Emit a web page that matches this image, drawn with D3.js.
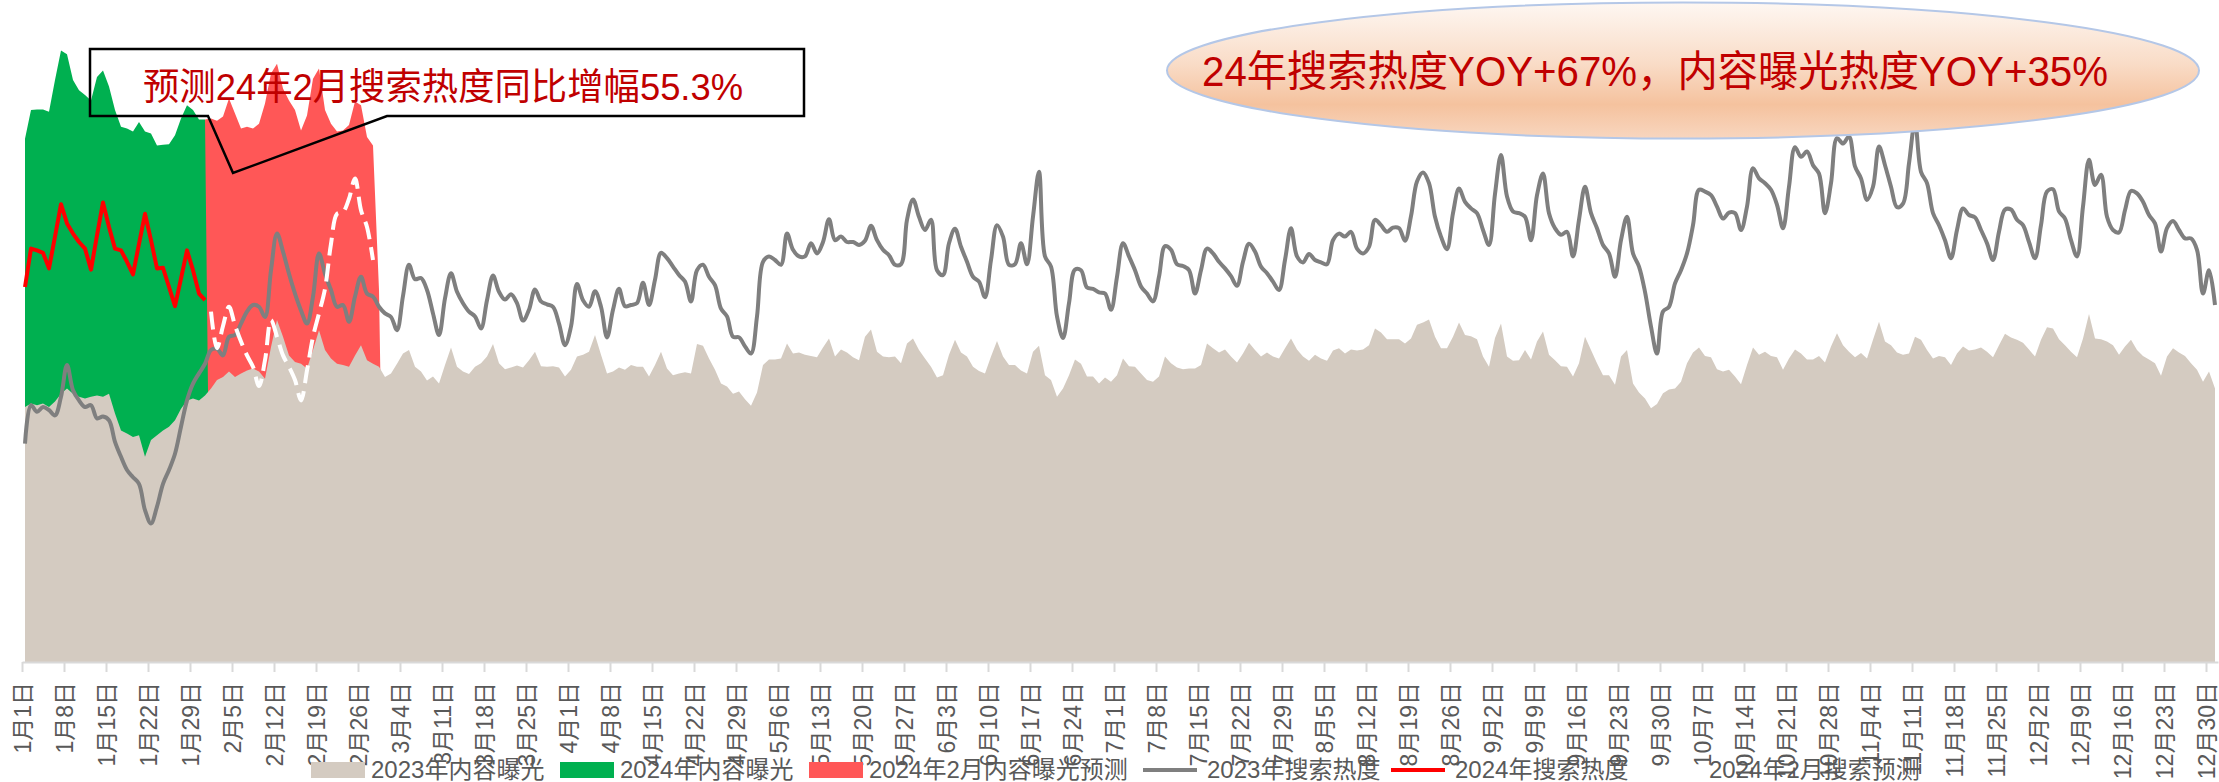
<!DOCTYPE html>
<html>
<head>
<meta charset="utf-8">
<script src="https://cdn.jsdelivr.net/npm/d3@7"></script>
<style>
  html, body { margin: 0; padding: 0; background: #fff; }
  svg { display: block; }
  text { font-family: "Liberation Sans", "Noto Sans CJK SC", sans-serif; }
</style>
</head>
<body>
<svg id="chart" width="2219" height="782"></svg>
<script>
// categories: every day of 2024 (the axis uses the leap-year calendar)
const days = d3.timeDay.range(new Date(2024, 0, 1), new Date(2025, 0, 1));
const tickDays = d3.range(0, days.length, 7);
const febStart = 31;

// 2023 content exposure, one value per day (index units)
const exposure2023 = [
  42.5, 43.1, 42.8, 43.1, 42.5, 43.4, 44.7, 45.6, 44.7, 44.2, 43.9, 44.2, 44.4, 44.2, 44.7, 41.4,
  38.6, 38.1, 37.5, 37.8, 34.2, 37.0, 37.8, 38.6, 39.2, 40.3, 42.2, 43.6, 43.9, 43.6, 44.4,
  45.6, 47.0, 47.5, 48.4, 47.5, 48.1, 48.6, 48.9, 48.4, 47.2, 52.5, 57.0, 54.2, 51.1, 50.0, 49.7,
  48.9, 52.0, 55.3, 52.0, 50.6, 49.7, 49.5, 49.2, 51.1, 52.8, 50.3, 49.7, 49.2, 47.5, 48.1, 49.7,
  51.4, 52.0, 49.2,
  48.4, 46.9, 47.6, 46.4, 49.5, 52.4, 49.2, 48.4, 48.0, 49.2, 49.8, 50.9, 53.0, 49.8, 48.8, 49.1,
  49.4, 49.1, 50.3, 51.7, 49.3, 49.2, 49.3, 49.1, 47.6, 48.7, 50.9, 51.2, 51.7, 54.5, 51.2, 48.1,
  48.4, 49.1, 48.7, 49.5, 49.2, 49.2, 47.6, 49.5, 51.7, 48.9, 47.8, 48.1, 48.3, 48.1, 53.0, 52.7,
  50.6, 48.7, 46.4, 45.9, 44.7, 45.1, 43.8, 42.7, 44.9, 49.5,
  50.4, 50.4, 50.6, 53.1, 51.4, 51.6, 51.2, 51.0, 50.8, 52.4, 53.9, 50.9, 52.1, 51.6, 50.8, 50.3,
  54.2, 55.4, 51.7, 50.9, 50.8, 50.9, 49.8, 53.1, 53.9, 52.0, 50.6, 49.2, 47.4, 47.8, 51.2, 53.7,
  51.6, 50.9, 49.2, 48.5, 48.1, 50.9, 53.5, 50.9, 49.5, 49.5, 48.6, 48.1, 51.7, 52.7, 47.8, 47.0,
  44.2, 45.6, 47.8, 50.4, 49.7, 47.6, 47.6, 46.4, 47.4, 46.7, 47.8, 50.6, 49.3,
  49.2, 48.1, 47.0, 46.7, 47.6, 50.9, 49.8, 49.1, 48.8, 48.9, 48.9, 49.5, 53.1, 52.3, 51.6, 52.1,
  50.9, 49.9, 51.4, 53.2, 52.0, 50.9, 51.6, 50.9, 50.6, 52.3, 53.9, 52.1, 50.9, 50.2, 51.2, 50.6,
  50.2, 51.9, 52.3, 51.4, 52.1, 51.9, 52.1, 52.8, 55.6, 54.9, 53.8, 53.8, 53.8, 53.1, 53.9, 56.2,
  56.6, 57.1, 54.2, 52.3, 52.3, 54.2, 56.6, 54.5, 54.3, 53.8, 50.9, 49.2, 54.0,
  56.4, 50.9, 50.2, 50.3, 52.0, 50.4, 53.4, 55.1, 51.2, 50.3, 49.3, 49.2, 47.6, 49.8, 54.2, 52.0,
  49.8, 47.8, 47.8, 46.2, 50.9, 52.0, 46.4, 44.9, 43.9, 42.3, 43.0, 44.8, 45.4, 45.6, 46.7, 49.8,
  51.6, 52.4, 51.0, 50.8, 48.8, 48.4, 48.7, 47.6, 46.3, 49.5, 52.4, 51.2, 51.7, 51.0, 50.8, 48.7,
  50.6, 52.1, 51.4, 50.4, 50.4, 51.0, 49.9, 52.6, 54.8, 52.8, 51.7, 50.8,
  51.5, 50.6, 53.7, 56.7, 53.4, 52.8, 51.6, 51.2, 51.4, 54.2, 53.7, 52.0, 50.6, 51.0, 50.8, 49.5,
  51.4, 52.6, 51.9, 52.1, 52.4, 51.7, 50.8, 52.8, 54.7, 54.1, 53.7, 53.2, 52.1, 50.9, 53.7, 55.8,
  55.6, 53.8, 52.8, 51.7, 50.8, 53.9, 58.0, 53.9, 53.8, 53.4, 52.8, 51.2, 52.6, 53.7, 52.0, 51.0,
  50.4, 49.8, 47.7, 50.9, 52.3, 51.6, 51.0, 49.8, 48.7, 46.7, 48.4, 45.6
];

// 2023 search heat, one value per day
const search2023 = [
  36.4, 42.8, 41.7, 42.5, 42.0, 41.1, 44.2, 49.5, 45.3, 43.6, 42.5, 42.8, 40.6, 40.9, 40.3, 36.7,
  34.2, 32.0, 30.8, 29.7, 25.3, 23.1, 25.9, 29.7, 32.0, 34.7, 39.2, 43.6, 46.4, 48.1, 49.7,
  52.0, 52.2, 51.1, 54.2, 54.5, 56.4, 58.4, 59.5, 59.2, 57.5, 65.3, 71.4, 68.4, 64.7, 61.4, 58.6,
  56.4, 60.9, 68.1, 64.7, 62.0, 59.2, 59.5, 56.7, 60.9, 64.2, 61.4, 60.9, 59.2, 58.1, 57.5, 55.3,
  61.0, 66.2, 63.8,
  64.0, 62.0, 58.1, 54.5, 60.6, 64.8, 61.7, 59.8, 58.4, 57.6, 55.6, 60.3, 64.4, 61.7, 60.4, 61.3,
  59.8, 56.9, 58.7, 62.1, 60.1, 59.6, 59.2, 56.4, 52.8, 55.9, 63.0, 60.3, 59.2, 61.8, 59.2, 54.1,
  58.7, 62.2, 59.3, 59.5, 59.8, 63.2, 59.5, 63.7, 68.2, 67.3, 65.9, 64.5, 63.4, 60.1, 65.3, 66.2,
  64.2, 62.8, 58.9, 57.6, 54.2, 54.1, 52.6, 51.4, 57.6, 66.7,
  67.6, 67.0, 66.2, 71.4, 68.7, 67.6, 67.6, 69.8, 68.1, 70.0, 73.8, 70.3, 70.9, 70.0, 70.0, 69.5,
  70.2, 72.7, 70.3, 68.7, 67.8, 66.2, 66.3, 73.7, 77.1, 74.2, 72.0, 73.7, 65.3, 64.5, 69.8, 72.2,
  69.2, 66.7, 64.2, 63.4, 60.8, 67.0, 72.8, 70.9, 66.2, 66.3, 69.8, 66.3, 74.2, 81.7, 67.6, 65.9,
  57.6, 54.0, 59.8, 65.4, 65.3, 62.4, 62.2, 61.6, 61.4, 58.7, 64.2, 69.8, 67.6,
  65.3, 62.6, 61.4, 60.1, 64.2, 69.3, 68.7, 66.3, 66.0, 65.3, 61.4, 65.3, 68.9, 68.1, 66.7, 65.6,
  64.3, 62.7, 66.7, 69.7, 68.4, 65.9, 64.8, 63.4, 62.0, 67.0, 72.3, 67.6, 66.6, 68.0, 67.0, 66.6,
  66.3, 70.3, 71.4, 70.9, 71.7, 68.9, 68.1, 69.2, 73.7, 72.8, 71.7, 72.4, 72.3, 70.2, 74.3, 80.1,
  81.6, 79.8, 74.2, 70.9, 68.8, 74.8, 78.9, 76.7, 75.6, 74.8, 72.0, 69.5, 78.0,
  84.5, 77.6, 75.1, 74.8, 74.2, 70.3, 77.8, 81.4, 74.8, 72.3, 71.2, 71.7, 67.6, 73.7, 79.2, 74.8,
  72.3, 69.5, 68.1, 64.2, 70.3, 74.2, 68.1, 65.9, 61.7, 55.9, 51.4, 58.4, 59.2, 63.1, 65.3, 68.1,
  72.8, 78.7, 78.4, 77.8, 75.9, 73.9, 74.9, 74.8, 72.0, 75.9, 82.3, 80.6, 79.8, 78.7, 76.2, 72.3,
  79.2, 85.8, 84.2, 85.1, 82.8, 81.4, 74.8, 79.8, 87.3, 86.4, 87.6, 82.6,
  80.6, 77.0, 79.2, 85.9, 82.8, 79.2, 75.8, 76.4, 83.1, 90.0, 81.7, 79.8, 74.8, 72.8, 70.3, 67.3,
  72.0, 75.6, 74.5, 74.1, 72.0, 69.8, 67.0, 71.7, 75.4, 75.4, 73.7, 72.8, 70.0, 67.3, 72.8, 78.4,
  78.8, 75.1, 73.9, 70.3, 67.6, 75.9, 83.7, 79.5, 81.2, 74.2, 72.0, 71.6, 75.3, 78.5, 78.1, 76.7,
  74.5, 73.1, 68.4, 72.3, 73.5, 72.0, 70.6, 70.6, 68.7, 61.4, 65.3, 59.5
];

// 2024 January content exposure (Jan 1 - Jan 31)
const exposure2024Jan = [
  87.2, 92.0, 92.1, 92.1, 91.7, 97.0, 101.9, 101.3, 97.0, 95.3, 94.5, 93.6, 97.5, 98.6, 95.9, 92.0,
  89.2, 88.9, 88.4, 90.0, 88.4, 88.1, 86.1, 86.2, 86.3, 87.8, 90.6, 92.8, 92.0, 90.4, 90.4
];

// 2024 February content exposure forecast (from Jan 31, joined to the actuals)
const exposure2024Feb = [
  90.4, 90.6, 90.2, 90.9, 93.9, 91.4, 88.9, 89.2, 88.9, 89.7, 93.1, 98.1, 99.7, 95.6, 93.6, 92.0,
  88.6, 91.1, 97.2, 98.9, 92.0, 89.7, 88.4, 88.6, 89.5, 93.4, 92.8, 87.5, 86.1, 62.0
];

// 2024 January search heat
const search2024Jan = [
  62.5, 68.9, 68.6, 68.2, 65.6, 70.9, 76.3, 73.1, 71.4, 70.0, 68.9, 65.4, 71.1, 76.6, 72.5, 68.9,
  68.6, 66.7, 64.6, 69.7, 74.7, 70.3, 65.6, 65.7, 62.5, 59.3, 63.9, 68.6, 65.3, 61.4, 60.3
];

// 2024 February search forecast (from Feb 1)
const search2024Feb = [
  58.4, 52.3, 56.0, 59.2, 56.1, 53.4, 51.1, 49.2, 46.0, 50.3, 57.0, 54.2, 51.1, 49.2, 47.0, 43.6,
  48.6, 54.2, 58.1, 62.2, 69.7, 74.7, 75.0, 77.2, 80.6, 75.3, 72.5, 67.0
];

const legendLabels = [
  "2023年内容曝光", "2024年内容曝光", "2024年2月内容曝光预测",
  "2023年搜索热度", "2024年搜索热度", "2024年2月搜索预测"
];
const calloutText = "预测24年2月搜索热度同比增幅55.3%";
const bubbleText = "24年搜索热度YOY+67%，内容曝光热度YOY+35%";

const colors = {
  beige: "#d4cbc1",
  green: "#00b050",
  red: "#ff5757",
  gray: "#7f7f7f",
  line2024: "#ff0000",
  forecast: "#ffffff",
  text: "#595959",
  title: "#c00000"
};

const svg = d3.select("#chart");

const x = d3.scaleBand().domain(d3.range(days.length)).range([22, 2218]);
const cx = (i) => x(i) + x.bandwidth() / 2;
const y = d3.scaleLinear().domain([0, 105]).range([662, 32]);

const toPoints = (values, start) => values.map((v, k) => [start + k, v]);

const area = d3.area()
  .x((d) => cx(d[0]))
  .y0(y(0))
  .y1((d) => y(d[1]));

const smooth = d3.line()
  .x((d) => cx(d[0]))
  .y((d) => y(d[1]))
  .curve(d3.curveCatmullRom.alpha(0.5));

const straight = d3.line()
  .x((d) => cx(d[0]))
  .y((d) => y(d[1]));

// areas: blank neighbours fall to zero, as in the source chart
const febFirst = febStart - 1;
const febPoints = [[febFirst - 1, 0], ...toPoints(exposure2024Feb, febFirst), [febFirst + exposure2024Feb.length, 0]];
const janPoints = [...toPoints(exposure2024Jan, 0), [exposure2024Jan.length, 0]];

svg.append("path").attr("d", area(febPoints)).attr("fill", colors.red);
svg.append("path").attr("d", area(janPoints)).attr("fill", colors.green);
svg.append("path").attr("d", area(toPoints(exposure2023, 0))).attr("fill", colors.beige);

svg.append("path")
  .attr("d", smooth(toPoints(search2023, 0)))
  .attr("fill", "none")
  .attr("stroke", colors.gray)
  .attr("stroke-width", 4)
  .attr("stroke-linejoin", "round");

svg.append("path")
  .attr("d", straight(toPoints(search2024Jan, 0)))
  .attr("fill", "none")
  .attr("stroke", colors.line2024)
  .attr("stroke-width", 4)
  .attr("stroke-linejoin", "round");

svg.append("path")
  .attr("d", smooth(toPoints(search2024Feb, febStart)))
  .attr("fill", "none")
  .attr("stroke", colors.forecast)
  .attr("stroke-width", 4)
  .attr("stroke-dasharray", "18,8");

// x axis
const xAxisScale = d3.scaleLinear().domain([0, days.length]).range([22, 2218]);
const dayLabel = (d) => `${d.getMonth() + 1}月${d.getDate()}日`;

const axis = svg.append("g")
  .attr("transform", `translate(0,${y(0)})`)
  .call(
    d3.axisBottom(xAxisScale)
      .tickValues(tickDays)
      .tickFormat((i) => dayLabel(days[i]))
      .tickSize(10)
      .tickSizeOuter(0)
  )
  .attr("font-size", null)
  .attr("font-family", null);

axis.select(".domain").attr("stroke", "#d9d9d9").attr("stroke-width", 2);
axis.selectAll(".tick line").attr("stroke", "#d9d9d9").attr("stroke-width", 2);
axis.selectAll(".tick text")
  .attr("transform", "rotate(-90)")
  .attr("x", -20)
  .attr("y", 0)
  .attr("dy", "0.35em")
  .attr("text-anchor", "end")
  .attr("fill", colors.text)
  .attr("font-size", 23);

// legend
const legendX = [311, 560, 809, 1143, 1391, 1645];
const legendKinds = [
  { kind: "rect", color: colors.beige },
  { kind: "rect", color: colors.green },
  { kind: "rect", color: colors.red },
  { kind: "line", color: colors.gray },
  { kind: "line", color: colors.line2024 },
  { kind: "line", color: colors.forecast }
];
const legendY = 770;

const legendItem = svg.append("g")
  .selectAll("g")
  .data(legendLabels)
  .join("g")
  .attr("transform", (d, i) => `translate(${legendX[i]},${legendY})`);

legendItem.each((d, i, n) => {
  const g = d3.select(n[i]);
  const k = legendKinds[i];
  if (k.kind === "rect") {
    g.append("rect").attr("x", 0).attr("y", -8).attr("width", 54).attr("height", 16).attr("fill", k.color);
  } else {
    g.append("line").attr("x1", 0).attr("x2", 54).attr("y1", 0).attr("y2", 0)
      .attr("stroke", k.color).attr("stroke-width", 4);
  }
  g.append("text")
    .attr("x", k.kind === "rect" ? 60 : 64)
    .attr("dy", "0.35em")
    .attr("fill", colors.text)
    .attr("font-size", 24)
    .text(d);
});

// callout box with pointer
svg.append("path")
  .attr("d", "M90,49H804V116H387L233,173L208,116H90Z")
  .attr("fill", "none")
  .attr("stroke", "#000")
  .attr("stroke-width", 2.5);

svg.append("text")
  .attr("x", 143)
  .attr("y", 100)
  .attr("fill", colors.title)
  .attr("font-size", 37)
  .attr("font-family", "'Liberation Mono', 'Noto Sans CJK SC', monospace")
  .attr("textLength", 600)
  .attr("lengthAdjust", "spacingAndGlyphs")
  .text(calloutText);

// summary bubble
const defs = svg.append("defs");
const grad = defs.append("linearGradient")
  .attr("id", "bubbleFill")
  .attr("x1", 0).attr("y1", 0).attr("x2", 0).attr("y2", 1);
grad.append("stop").attr("offset", "0%").attr("stop-color", "#fef7f2");
grad.append("stop").attr("offset", "45%").attr("stop-color", "#f9dcc7");
grad.append("stop").attr("offset", "75%").attr("stop-color", "#f5c29e");
grad.append("stop").attr("offset", "100%").attr("stop-color", "#f8d6bf");

svg.append("ellipse")
  .attr("cx", 1683)
  .attr("cy", 70.5)
  .attr("rx", 516)
  .attr("ry", 68)
  .attr("fill", "url(#bubbleFill)")
  .attr("stroke", "#b4c7e7")
  .attr("stroke-width", 2);

svg.append("text")
  .attr("x", 1202)
  .attr("y", 86)
  .attr("fill", colors.title)
  .attr("font-size", 42)
  .attr("textLength", 906)
  .attr("lengthAdjust", "spacingAndGlyphs")
  .text(bubbleText);
</script>
</body>
</html>
